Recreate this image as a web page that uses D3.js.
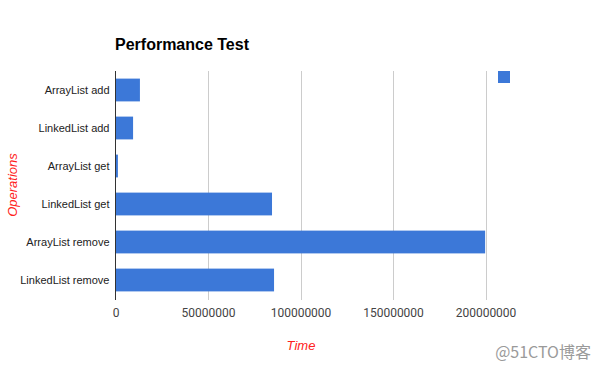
<!DOCTYPE html>
<html>
<head>
<meta charset="utf-8">
<script src="https://cdn.jsdelivr.net/npm/d3@7"></script>
<style>
  html, body { margin: 0; padding: 0; background: #fff; }
  svg { display: block; font-family: "Liberation Sans", Arial, sans-serif; }
</style>
</head>
<body>
<svg id="chart" width="600" height="371"></svg>
<script>
// Operations measured and their elapsed time
const operations = ["ArrayList add", "LinkedList add", "ArrayList get", "LinkedList get", "ArrayList remove", "LinkedList remove"];
const times = [13200000, 9500000, 1300000, 84600000, 199800000, 85700000];
const timeTicks = [0, 50000000, 100000000, 150000000, 200000000];

const svg = d3.select("#chart");
const plot = { left: 115.5, right: 485.5, top: 71, bottom: 299 };
const barColor = "#3c78d8";

const x = d3.scaleLinear().domain([0, 200000000]).range([plot.left, plot.right]);
const y = d3.scaleBand().domain(operations).range([plot.top, plot.bottom])
  .paddingInner(0.4).paddingOuter(0.2);

// Title
svg.append("text")
  .attr("x", 115).attr("y", 50)
  .attr("font-size", 16).attr("font-weight", "bold").attr("fill", "#000")
  .text("Performance Test");

// Vertical gridlines
svg.append("g")
  .selectAll("line")
  .data(timeTicks.slice(1))
  .join("line")
  .attr("x1", d => Math.round(x(d)) + 0.5).attr("x2", d => Math.round(x(d)) + 0.5)
  .attr("y1", plot.top).attr("y2", plot.bottom + 1)
  .attr("stroke", "#cccccc").attr("stroke-width", 1);

// Bars
svg.append("g")
  .selectAll("rect")
  .data(operations)
  .join("rect")
  .attr("x", x(0))
  .attr("y", d => y(d))
  .attr("width", (d, i) => x(times[i]) - x(0))
  .attr("height", y.bandwidth())
  .attr("fill", barColor);

// Baseline axis line
svg.append("line")
  .attr("x1", x(0)).attr("x2", x(0))
  .attr("y1", plot.top).attr("y2", plot.bottom + 1)
  .attr("stroke", "#333").attr("stroke-width", 1);

// X axis tick labels
const xAxis = d3.axisBottom(x).tickValues(timeTicks).tickSize(0).tickPadding(0)
  .tickFormat(d => String(d));
const gx = svg.append("g").attr("transform", `translate(0,${plot.bottom})`).call(xAxis);
gx.select(".domain").remove();
gx.selectAll("text")
  .attr("dy", 0).attr("y", 18)
  .attr("font-size", 12).attr("fill", "#444")
  .attr("font-family", "Roboto, 'Liberation Sans', sans-serif");

// Y axis category labels
const yAxis = d3.axisLeft(y).tickSize(0).tickPadding(0);
const gy = svg.append("g").attr("transform", `translate(${plot.left - 6},0)`).call(yAxis);
gy.select(".domain").remove();
gy.selectAll("text")
  .attr("font-size", 11).attr("fill", "#222")
  .attr("font-family", "'Liberation Sans', Arial, sans-serif");

// Axis titles
svg.append("text")
  .attr("x", 301).attr("y", 350)
  .attr("text-anchor", "middle")
  .attr("font-size", 13).attr("font-style", "italic").attr("fill", "#ff2020")
  .text("Time");

svg.append("text")
  .attr("transform", `translate(17,${(plot.top + plot.bottom) / 2}) rotate(-90)`)
  .attr("text-anchor", "middle")
  .attr("font-size", 13).attr("font-style", "italic").attr("fill", "#ff2020")
  .text("Operations");

// Legend swatch
svg.append("rect")
  .attr("x", 498).attr("y", 71).attr("width", 12).attr("height", 12)
  .attr("fill", barColor);

// Site mark
svg.append("text")
  .attr("x", 591).attr("y", 358)
  .attr("text-anchor", "end")
  .attr("font-size", 16).attr("fill", "#9a9a9a")
  .attr("font-family", "'Noto Sans CJK SC', sans-serif")
  .text("@51CTO博客");
</script>
</body>
</html>
